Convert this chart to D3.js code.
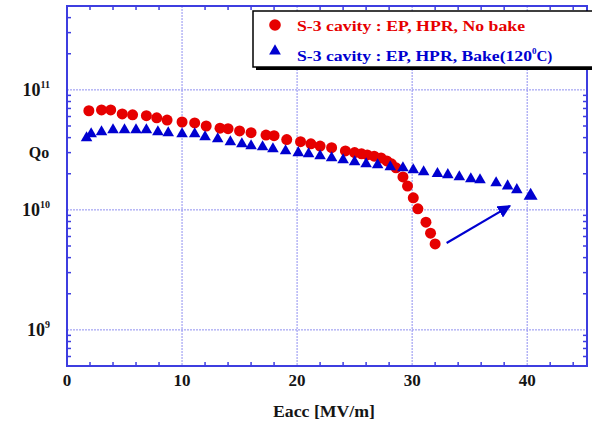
<!DOCTYPE html>
<html>
<head>
<meta charset="utf-8">
<script src="https://cdn.jsdelivr.net/npm/d3@7"></script>
<style>
  body { margin: 0; background: #fff; }
  svg { display: block; }
  text { font-family: "Liberation Serif", "DejaVu Serif", serif; font-weight: bold; }
</style>
</head>
<body>
<div id="chart"></div>
<script>
// 数据 (Eacc [MV/m], Qo)
const noBakeE = [1.9, 3.0, 3.8, 4.8, 5.7, 6.9, 7.8, 8.7, 10.0, 11.1, 12.1, 13.3, 14.0, 15.0, 16.0,
  17.3, 18.0, 19.1, 20.3, 21.2, 22.0, 23.0, 24.2, 25.0, 25.6, 26.1, 26.7, 27.3, 27.8, 28.2,
  28.6, 29.2, 29.6, 30.1, 30.5, 31.2, 31.6, 32.0];
const noBakeQ = [6.7e10, 6.8e10, 6.8e10, 6.3e10, 6.2e10, 6.1e10, 5.85e10, 5.6e10, 5.4e10, 5.3e10,
  5.0e10, 4.8e10, 4.75e10, 4.55e10, 4.4e10, 4.2e10, 4.15e10, 3.85e10, 3.7e10, 3.55e10,
  3.4e10, 3.3e10, 3.1e10, 3.0e10, 2.93e10, 2.87e10, 2.8e10, 2.71e10, 2.56e10, 2.42e10,
  2.24e10, 1.88e10, 1.58e10, 1.26e10, 1.02e10, 7.9e9, 6.4e9, 5.2e9];

const bakeE = [1.7, 2.1, 3.0, 4.0, 5.0, 6.0, 6.9, 7.9, 8.8, 10.0, 11.1, 12.0, 13.1, 14.2, 15.2,
  16.0, 17.0, 17.9, 19.0, 20.1, 21.0, 22.0, 23.0, 24.0, 25.0, 26.0, 27.0, 28.1, 29.2, 30.1,
  31.0, 32.2, 33.1, 34.1, 35.1, 35.9, 37.3, 38.3, 39.1, 40.3];
const bakeQ = [3.98e10, 4.3e10, 4.47e10, 4.64e10, 4.64e10, 4.64e10, 4.64e10, 4.47e10, 4.38e10,
  4.3e10, 4.3e10, 4.06e10, 3.91e10, 3.69e10, 3.55e10, 3.41e10, 3.35e10, 3.22e10, 3.1e10,
  2.99e10, 2.93e10, 2.82e10, 2.71e10, 2.61e10, 2.51e10, 2.42e10, 2.37e10, 2.28e10, 2.24e10,
  2.15e10, 2.07e10, 2.0e10, 1.96e10, 1.88e10, 1.81e10, 1.78e10, 1.68e10, 1.58e10, 1.47e10, 1.31e10];

// 箭头 (from, to)
const arrowE = [33.0, 38.5];
const arrowQ = [5.3e9, 1.08e10];

const xTicks = [0, 10, 20, 30, 40];
const yDecades = [1e9, 1e10, 1e11];
const yExp = ["9", "10", "11"];
const legendLabels = ["S-3 cavity : EP, HPR, No bake", "S-3 cavity : EP, HPR, Bake(120"];

// 尺寸
const width = 592, height = 422;
const mLeft = 67, mRight = 587, mTop = 6, mBottom = 366;

const svg = d3.select("#chart").append("svg")
  .attr("width", width).attr("height", height);

const x = d3.scaleLinear().domain([0, 45.2]).range([mLeft, mRight]);
const y = d3.scaleLog().domain([5e8, 5e11]).range([mBottom, mTop]);

const frameColor = "#3d3de0";
const gridColor = "#8f8ff0";
const red = "#e60000";
const blue = "#0000d0";
const ink = "#151515";

// 网格线
svg.append("g").selectAll("line")
  .data(xTicks.filter(d => d > 0))
  .enter().append("line")
  .attr("x1", d => x(d)).attr("x2", d => x(d))
  .attr("y1", mTop).attr("y2", mBottom)
  .attr("stroke", gridColor).attr("stroke-width", 1)
  .attr("stroke-dasharray", "2,1");

svg.append("g").selectAll("line")
  .data(yDecades)
  .enter().append("line")
  .attr("x1", mLeft).attr("x2", mRight)
  .attr("y1", d => y(d)).attr("y2", d => y(d))
  .attr("stroke", gridColor).attr("stroke-width", 1)
  .attr("stroke-dasharray", "2,1");

// 小刻度
const xMinor = d3.range(2, 45, 2).filter(d => d % 10 !== 0);
const ticksG = svg.append("g").attr("stroke", frameColor).attr("stroke-width", 1.5);
xMinor.forEach(d => {
  ticksG.append("line").attr("x1", x(d)).attr("x2", x(d)).attr("y1", mBottom).attr("y2", mBottom - 4);
  ticksG.append("line").attr("x1", x(d)).attr("x2", x(d)).attr("y1", mTop).attr("y2", mTop + 4);
});
const yMinor = y.ticks().filter(d => !yDecades.includes(d));
yMinor.forEach(d => {
  ticksG.append("line").attr("x1", mLeft).attr("x2", mLeft + 4).attr("y1", y(d)).attr("y2", y(d));
  ticksG.append("line").attr("x1", mRight).attr("x2", mRight - 4).attr("y1", y(d)).attr("y2", y(d));
});

// 外框
svg.append("rect")
  .attr("x", mLeft).attr("y", mTop)
  .attr("width", mRight - mLeft).attr("height", mBottom - mTop)
  .attr("fill", "none").attr("stroke", frameColor).attr("stroke-width", 2);

// X轴标签
svg.append("g").selectAll("text")
  .data(xTicks)
  .enter().append("text")
  .attr("x", d => x(d)).attr("y", 386)
  .attr("text-anchor", "middle")
  .attr("font-size", 17)
  .attr("fill", ink)
  .text(d => d);

svg.append("text")
  .attr("x", 273).attr("y", 417)
  .attr("font-size", 16)
  .attr("textLength", 102)
  .attr("lengthAdjust", "spacingAndGlyphs")
  .attr("fill", ink)
  .text("Eacc [MV/m]");

// Y轴标签
yDecades.forEach((d, i) => {
  const t = svg.append("text")
    .attr("x", 50).attr("y", y(d) + 6)
    .attr("text-anchor", "end")
    .attr("font-size", 18)
    .attr("fill", ink);
  t.append("tspan").text("10");
  t.append("tspan").attr("dy", -8).attr("font-size", 10).text(yExp[i]);
});

svg.append("text")
  .attr("x", 39).attr("y", 158)
  .attr("text-anchor", "middle")
  .attr("font-size", 16)
  .attr("fill", ink)
  .text("Qo");

// 数据点
svg.append("g").selectAll("circle")
  .data(noBakeE)
  .enter().append("circle")
  .attr("cx", d => x(d))
  .attr("cy", (d, i) => y(noBakeQ[i]))
  .attr("r", 5.5)
  .attr("fill", red);

const tri = d3.symbol().type(d3.symbolTriangle);
svg.append("g").selectAll("path")
  .data(bakeE)
  .enter().append("path")
  .attr("d", (d, i) => tri.size(i === bakeE.length - 1 ? 85 : 58)())
  .attr("transform", (d, i) => "translate(" + x(d) + "," + y(bakeQ[i]) + ")")
  .attr("fill", blue);

// 箭头
svg.append("defs").append("marker")
  .attr("id", "head")
  .attr("viewBox", "0 0 10 10")
  .attr("refX", 9).attr("refY", 5)
  .attr("markerWidth", 6).attr("markerHeight", 6)
  .attr("markerUnits", "strokeWidth")
  .attr("orient", "auto")
  .append("path")
  .attr("d", "M0,0 L10,5 L0,10 z")
  .attr("fill", blue);

svg.append("line")
  .attr("x1", x(arrowE[0])).attr("y1", y(arrowQ[0]))
  .attr("x2", x(arrowE[1])).attr("y2", y(arrowQ[1]))
  .attr("stroke", blue).attr("stroke-width", 2.2)
  .attr("marker-end", "url(#head)");

// 图例
const lg = svg.append("g");
lg.append("rect")
  .attr("x", 256).attr("y", 14).attr("width", 340).attr("height", 56)
  .attr("fill", "#000");
lg.append("rect")
  .attr("x", 253).attr("y", 11).attr("width", 340).attr("height", 56)
  .attr("fill", "#fff").attr("stroke", "#000").attr("stroke-width", 1.5);

lg.append("circle").attr("cx", 275).attr("cy", 25).attr("r", 5.8).attr("fill", red);
lg.append("path")
  .attr("d", tri.size(60)())
  .attr("transform", "translate(275,51)")
  .attr("fill", blue);

lg.append("text")
  .attr("x", 297).attr("y", 31)
  .attr("font-size", 15)
  .attr("textLength", 228)
  .attr("lengthAdjust", "spacingAndGlyphs")
  .attr("fill", red)
  .text(legendLabels[0]);

const lt = lg.append("text")
  .attr("x", 297).attr("y", 61)
  .attr("font-size", 15)
  .attr("fill", blue);
lt.append("tspan")
  .attr("textLength", 235)
  .attr("lengthAdjust", "spacingAndGlyphs")
  .text(legendLabels[1]);
lt.append("tspan").attr("dy", -7).attr("font-size", 9).text("0");
lt.append("tspan").attr("dy", 7).text("C)");
</script>
</body>
</html>
